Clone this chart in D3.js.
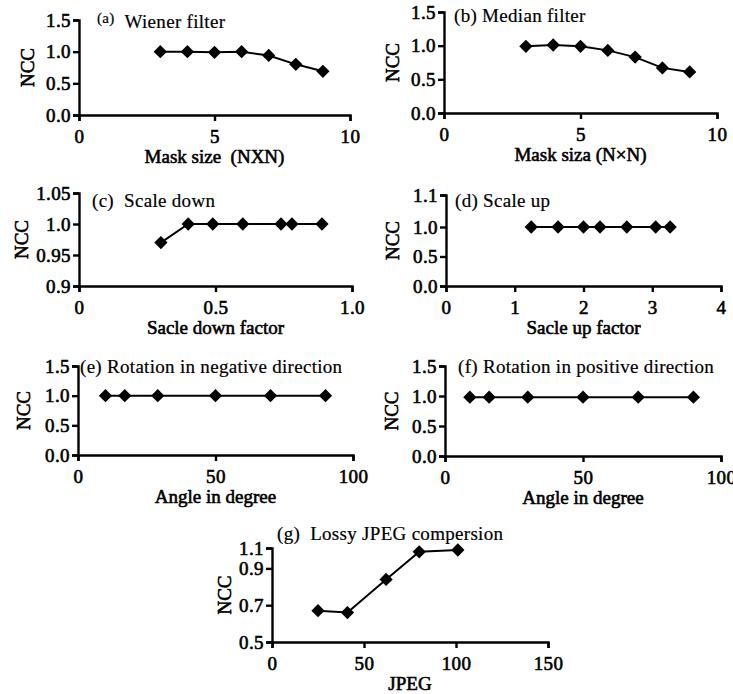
<!DOCTYPE html>
<html lang="en">
<head>
    <meta charset="UTF-8">
    <title>NCC robustness</title>
    <script src="https://d3js.org/d3.v7.min.js"></script>
    <style>
        body {
            margin: 0;
            padding: 0;
            background: #fff;
        }
        svg {
            display: block;
        }
        /* the bold serif face falls back to sans here, so thicken the regular one */
        .tick text {
            font-family: "Liberation Serif", "Times New Roman", serif;
            font-weight: normal;
            font-size: 19px;
            letter-spacing: 0.4px;
            fill: #000;
            stroke: #000;
            stroke-width: 0.6px;
        }
        .axis path, .axis line {
            stroke: #000;
            stroke-width: 2.4;
        }
        .ptitle {
            font-family: "Liberation Serif", "Times New Roman", serif;
            font-size: 19px;
            letter-spacing: 0.3px;
            fill: #000;
            stroke: #000;
            stroke-width: 0.2px;
        }
        .atitle {
            font-family: "Liberation Serif", "Times New Roman", serif;
            font-weight: normal;
            font-size: 19px;
            fill: #000;
            stroke: #000;
            stroke-width: 0.6px;
        }
    </style>
</head>
<body>
<script>
    // data
    var maskSize = [3, 4, 5, 6, 7, 8, 9];
    var wienerNcc = [1.0, 1.0, 0.99, 1.0, 0.94, 0.80, 0.69];
    var medianNcc = [0.99, 1.01, 0.99, 0.93, 0.83, 0.67, 0.61];

    var scaleDownFactor = [0.3, 0.4, 0.49, 0.6, 0.74, 0.78, 0.89];
    var scaleDownNcc = [0.97, 1.0, 1.0, 1.0, 1.0, 1.0, 1.0];

    var scaleUpFactor = [1.24, 1.63, 2.0, 2.24, 2.63, 3.05, 3.26];
    var scaleUpNcc = [1.0, 1.0, 1.0, 1.0, 1.0, 1.0, 1.0];

    var negAngle = [10, 17, 29, 50, 70, 90];
    var negNcc = [1.0, 1.0, 1.0, 1.0, 1.0, 1.0];
    var posAngle = [9, 16, 30, 50, 70, 90];
    var posNcc = [0.98, 0.98, 0.98, 0.98, 0.98, 0.98];

    var jpegQuality = [25, 41, 62, 80, 101];
    var jpegNcc = [0.67, 0.66, 0.84, 0.99, 1.0];

    // tick values and labels
    var ncc15Ticks = [0, 0.5, 1.0, 1.5];
    var ncc15Labels = ["0.0", "0.5", "1.0", "1.5"];
    var maskTicks = [0, 5, 10];
    var maskLabels = ["0", "5", "10"];
    var downYTicks = [0.9, 0.95, 1.0, 1.05];
    var downYLabels = ["0.9", "0.95", "1.0", "1.05"];
    var downXTicks = [0, 0.5, 1.0];
    var downXLabels = ["0", "0.5", "1.0"];
    var upYTicks = [0, 0.5, 1.0, 1.1];
    var upYLabels = ["0.0", "0.5", "1.0", "1.1"];
    var upXTicks = [0, 1, 2, 3, 4];
    var upXLabels = ["0", "1", "2", "3", "4"];
    var angleTicks = [0, 50, 100];
    var angleLabels = ["0", "50", "100"];
    var jpegYTicks = [0.5, 0.7, 0.9, 1.1];
    var jpegYLabels = ["0.5", "0.7", "0.9", "1.1"];
    var jpegXTicks = [0, 50, 100, 150];
    var jpegXLabels = ["0", "50", "100", "150"];

    var W = 733, H = 694;
    var svg = d3.select('body').append('svg')
        .attr('width', W)
        .attr('height', H);

    // one entry per small chart: data + where it sits on the page
    var panels = [
        { tag: "(a)", smallTag: true, title: "Wiener filter", xs: maskSize, ys: wienerNcc,
          xDom: [0, 10], xRan: [79, 350], yDom: [0, 1.5], yRan: [115, 20],
          xT: maskTicks, xL: maskLabels, yT: ncc15Ticks, yL: ncc15Labels,
          xTitle: "Mask size  (NXN)", tx: 97, ty: 28, nccX: 28 },
        { tag: "(b)", title: "Median filter", xs: maskSize, ys: medianNcc,
          xDom: [0, 10], xRan: [444, 717], yDom: [0, 1.5], yRan: [113, 12],
          xT: maskTicks, xL: maskLabels, yT: ncc15Ticks, yL: ncc15Labels,
          xTitle: "Mask siza (N\u00d7N)", tx: 454, ty: 22, nccX: 393 },
        { tag: "(c)", title: "Scale down", xs: scaleDownFactor, ys: scaleDownNcc,
          xDom: [0, 1], xRan: [79, 352], yDom: [0.9, 1.05], yRan: [286, 193],
          xT: downXTicks, xL: downXLabels, yT: downYTicks, yL: downYLabels,
          xTitle: "Sacle down factor", tx: 92, ty: 207, nccX: 22 },
        { tag: "(d)", title: "Scale up", xs: scaleUpFactor, ys: scaleUpNcc,
          xDom: [0, 4], xRan: [446, 721], yDom: [0, 1.0, 1.1], yRan: [286, 227, 195],
          xT: upXTicks, xL: upXLabels, yT: upYTicks, yL: upYLabels,
          xTitle: "Sacle up factor", tx: 455, ty: 207, nccX: 393 },
        { tag: "(e)", title: "Rotation in negative direction", xs: negAngle, ys: negNcc,
          xDom: [0, 100], xRan: [78, 353], yDom: [0, 1.5], yRan: [455, 366],
          xT: angleTicks, xL: angleLabels, yT: ncc15Ticks, yL: ncc15Labels,
          xTitle: "Angle in degree", tx: 80, ty: 373, nccX: 24 },
        { tag: "(f)", title: "Rotation in positive direction", xs: posAngle, ys: posNcc,
          xDom: [0, 100], xRan: [445, 721], yDom: [0, 1.5], yRan: [456, 366],
          xT: angleTicks, xL: angleLabels, yT: ncc15Ticks, yL: ncc15Labels,
          xTitle: "Angle in degree", tx: 458, ty: 373, nccX: 392 },
        { tag: "(g)", title: "Lossy JPEG compersion", xs: jpegQuality, ys: jpegNcc,
          xDom: [0, 150], xRan: [272, 548], yDom: [0.5, 1.0, 1.1], yRan: [642, 550, 548],
          xT: jpegXTicks, xL: jpegXLabels, yT: jpegYTicks, yL: jpegYLabels,
          xTitle: "JPEG", tx: 277, ty: 540, nccX: 225 }
    ];

    var diamond = d3.symbol().type(d3.symbolSquare).size(88);

    panels.forEach(function(p) {
        var x = d3.scaleLinear().domain(p.xDom).range(p.xRan);
        var y = d3.scaleLinear().domain(p.yDom).range(p.yRan);
        var y0 = p.yRan[0];
        var x0 = p.xRan[0];

        svg.append('g')
            .attr('class', 'axis')
            .attr('transform', 'translate(0,' + y0 + ')')
            .call(d3.axisBottom(x).tickValues(p.xT)
                .tickFormat(function(d, i) { return p.xL[i]; })
                .tickSizeOuter(0).tickSize(6).tickPadding(9));

        svg.append('g')
            .attr('class', 'axis')
            .attr('transform', 'translate(' + x0 + ',0)')
            .call(d3.axisLeft(y).tickValues(p.yT)
                .tickFormat(function(d, i) { return p.yL[i]; })
                .tickSizeOuter(0).tickSize(6).tickPadding(2));

        var pts = p.xs.map(function(v, i) { return [v, p.ys[i]]; });

        svg.append('path')
            .datum(pts)
            .attr('fill', 'none')
            .attr('stroke', '#000')
            .attr('stroke-width', 2)
            .attr('d', d3.line()
                .x(function(d) { return x(d[0]); })
                .y(function(d) { return y(d[1]); }));

        svg.selectAll(null)
            .data(pts)
            .enter().append('path')
            .attr('d', diamond)
            .attr('fill', '#000')
            .attr('transform', function(d) {
                return 'translate(' + x(d[0]) + ',' + y(d[1]) + ') rotate(45)';
            });

        // panel title
        var t = svg.append('text')
            .attr('class', 'ptitle')
            .attr('x', p.tx)
            .attr('y', p.ty);
        if (p.smallTag) {
            t.append('tspan').attr('font-size', '15px').attr('dy', -5).text(p.tag);
            t.append('tspan').attr('dx', 10).attr('dy', 5).text(p.title);
        } else {
            t.text(p.tag + (p.tag === "(c)" || p.tag === "(g)" ? "  " : " ") + p.title)
                .attr('xml:space', 'preserve');
        }

        // axis titles
        svg.append('text')
            .attr('class', 'atitle')
            .attr('text-anchor', 'middle')
            .attr('x', (p.xRan[0] + p.xRan[1]) / 2)
            .attr('y', y0 + 48)
            .attr('xml:space', 'preserve')
            .text(p.xTitle);

        svg.append('text')
            .attr('class', 'atitle')
            .attr('text-anchor', 'middle')
            .attr('transform', 'translate(' + (p.nccX + 6) + ',' + ((p.yRan[0] + p.yRan[p.yRan.length - 1]) / 2) + ') rotate(-90)')
            .text("NCC");
    });
</script>
</body>
</html>
